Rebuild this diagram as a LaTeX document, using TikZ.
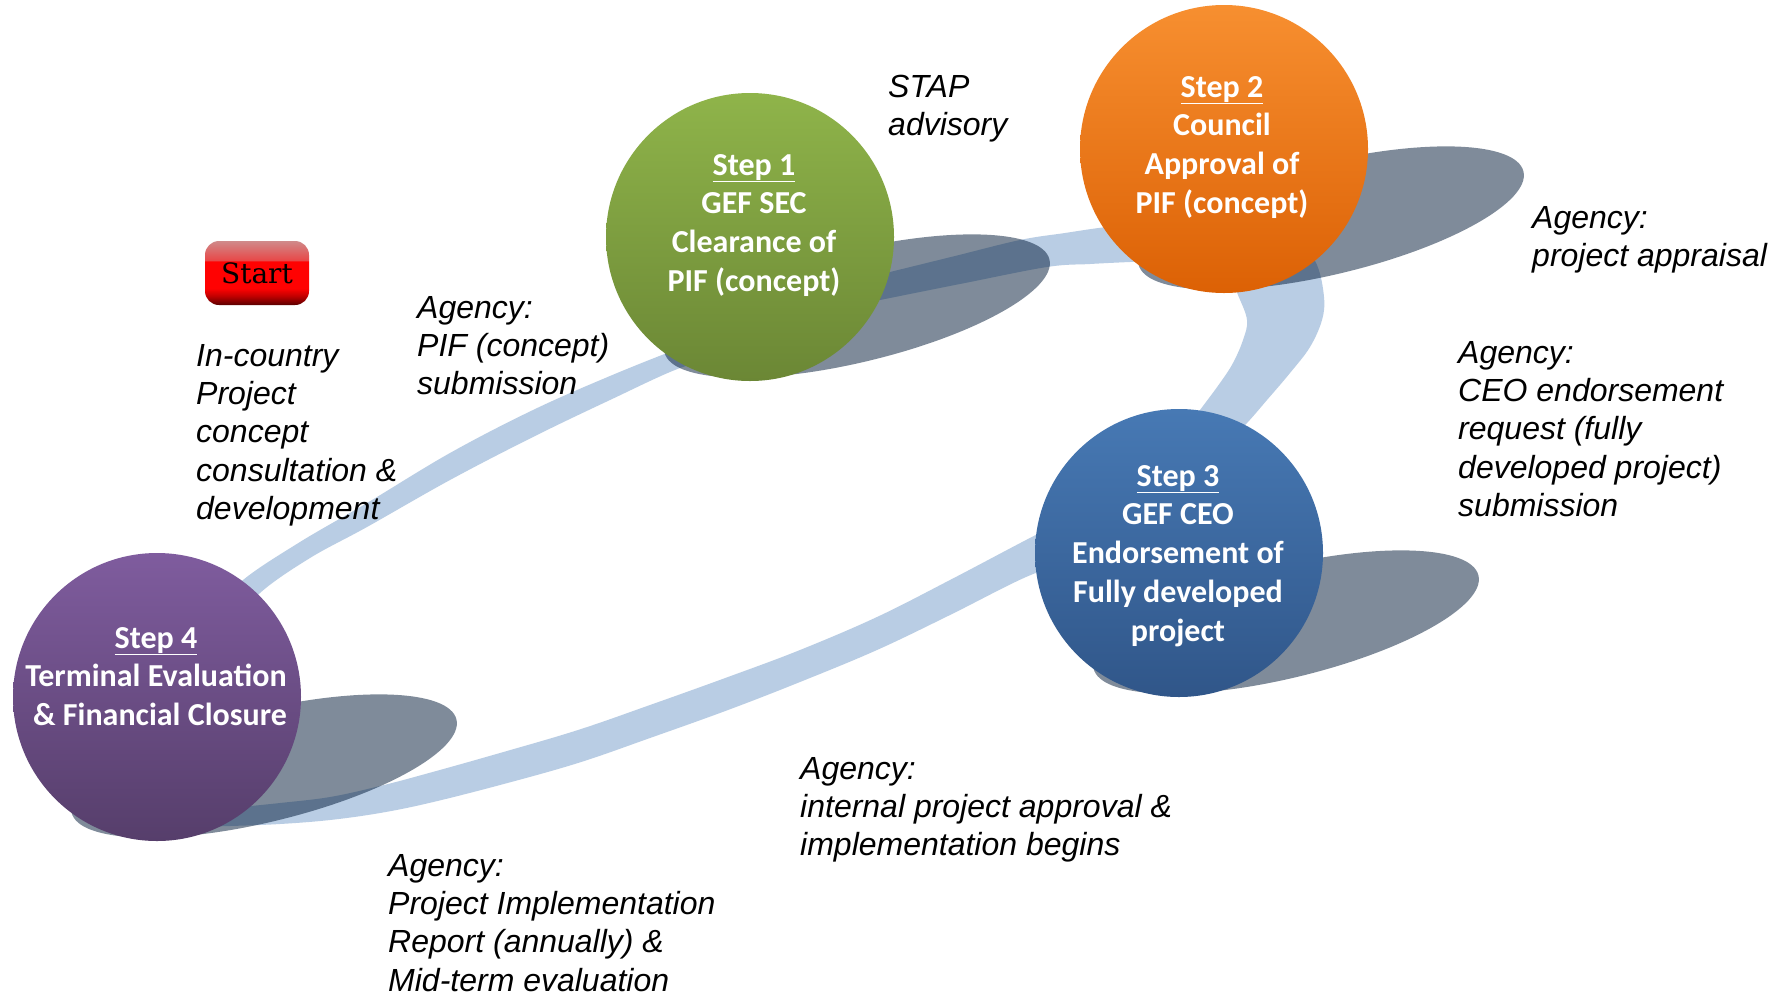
\documentclass[tikz,border=0pt]{standalone}
\usepackage{fontspec}
\setmainfont{Liberation Sans}
\newfontfamily\carlito{Carlito}
\newfontfamily\dejaserif{DejaVu Serif}
\definecolor{bandc}{HTML}{B9CDE4}
\definecolor{shad}{RGB}{0,25,55}
\definecolor{gA}{HTML}{8FB44A}
\definecolor{gB}{HTML}{6B8735}
\definecolor{oA}{HTML}{F78F30}
\definecolor{oB}{HTML}{DC6105}
\definecolor{bA}{HTML}{4779B4}
\definecolor{bB}{HTML}{305689}
\definecolor{pA}{HTML}{7F5C9E}
\definecolor{pB}{HTML}{563E6B}
\definecolor{sbot}{HTML}{5A0000}
\definecolor{sred2}{HTML}{C00000}
\definecolor{sred}{HTML}{FF0202}
\definecolor{shi}{HTML}{E84848}
\definecolor{stop}{HTML}{D08A8A}
\pgfdeclareverticalshading{startsh}{100bp}{color(0bp)=(sbot); color(25bp)=(sbot); color(32bp)=(sred2); color(38bp)=(sred); color(59bp)=(sred); color(60bp)=(shi); color(75bp)=(stop); color(100bp)=(stop)}
\newcommand\firstln{\rule{0pt}{25pt}}
\begin{document}
\begin{tikzpicture}[x=1pt,y=-1pt,
  stepcircle/.style={circle, minimum size=288pt, inner sep=0pt, outer sep=0pt, shading angle=45},
  steptext/.style={text=white, font=\carlito\bfseries\fontsize{32}{38.7}\selectfont, align=center, anchor=north, inner sep=0pt},
  agencytext/.style={text=black, font=\itshape\fontsize{32}{38.3}\selectfont, align=left, anchor=north west, inner sep=0pt},
  shadowblob/.style={fill=shad, fill opacity=0.5},
  bandfill/.style={fill=bandc},
  startbtn/.style={shade, shading=startsh, rounded corners=14pt, minimum width=104pt, minimum height=64pt, inner sep=0pt, text height=20pt, text depth=0pt, font=\dejaserif\fontsize{28}{30}\selectfont}
]
\useasboundingbox (0,0) rectangle (1777,1002);
\fill[white] (0,0) rectangle (1777,1002);

% ring band, drawn in four pieces whose ends hide under the circles
\fill[bandfill] plot[smooth, tension=0.6] coordinates {(215,612) (243,580) (300,542) (367,503) (450,453) (533,410) (610,376) (680,348) (725,332)}
  -- plot[smooth, tension=0.6] coordinates {(725,357) (680,368) (610,400) (533,437) (450,480) (367,527) (310,558) (260,593) (232,628)} -- cycle;
\fill[bandfill] plot[smooth, tension=0.6] coordinates {(800,294) (890,272) (955,256) (1020,240) (1065,233) (1107,227) (1150,224)}
  -- plot[smooth, tension=0.6] coordinates {(1160,261) (1130,262) (1090,264) (1047,267) (965,283) (880,300) (790,318)} -- cycle;
\fill[bandfill] plot[smooth, tension=0.6] coordinates {(1225,265) (1238,295) (1247,320) (1243,340) (1233,363) (1220,383) (1200,410) (1183,432)}
  -- plot[smooth, tension=0.6] coordinates {(1225,445) (1247,423) (1267,400) (1290,373) (1310,347) (1322,320) (1324,297) (1317,265) (1300,240)} -- cycle;
\fill[bandfill] plot[smooth, tension=0.6] coordinates {(1075,515) (1026,540) (950,580) (877,617) (800,650) (728,677) (650,705) (578,730) (500,753) (429,773) (380,786) (330,797) (280,803) (230,808) (185,812)}
  -- plot[smooth, tension=0.6] coordinates {(185,827) (230,826) (280,824) (330,820) (380,813) (429,803) (500,785) (578,763) (650,738) (728,710) (800,682) (877,650) (950,615) (1026,577) (1075,560)} -- cycle;

% shadows
\fill[shadowblob, rotate around={13.6:(857,306)}] (857,306) ellipse [x radius=198, y radius=56];
\fill[shadowblob, rotate around={13.6:(1331,218)}] (1331,218) ellipse [x radius=198, y radius=56];
\fill[shadowblob, rotate around={13.6:(1286,622)}] (1286,622) ellipse [x radius=198, y radius=56];
\fill[shadowblob, rotate around={13.6:(264,766)}] (264,766) ellipse [x radius=198, y radius=56];

% step circles
\node[stepcircle, top color=gA, bottom color=gB] (s1) at (750,237) {};
\node[stepcircle, top color=oA, bottom color=oB] (s2) at (1224,149) {};
\node[stepcircle, top color=bA, bottom color=bB] (s3) at (1179,553) {};
\node[stepcircle, top color=pA, bottom color=pB] (s4) at (157,697) {};

\node[steptext] (s1t) at (754,150) {\firstln\underline{Step 1}\\GEF SEC\\Clearance of\\PIF (concept)};
\node[steptext] (s2t) at (1222,72) {\firstln\underline{Step 2}\\Council\\Approval of\\PIF (concept)};
\node[steptext] (s3t) at (1178,461) {\firstln\underline{Step 3}\\GEF CEO\\Endorsement of\\Fully developed\\project};
\node[steptext] (s4t) at (156,623) {\firstln\underline{Step 4}\\Terminal Evaluation\\\hspace*{8pt}\& Financial Closure};

% start button
\node[startbtn] (start) at (257,273) {Start};

% annotations
\node[agencytext] (tin) at (196,341) {\firstln In-country\\Project\\concept\\consultation \&\\development};
\node[agencytext] (tpif) at (417,293) {\firstln Agency:\\PIF (concept)\\submission};
\node[agencytext] (tstap) at (888,72) {\firstln STAP\\advisory};
\node[agencytext] (tapp) at (1532,203) {\firstln Agency:\\project appraisal};
\node[agencytext] (tceo) at (1458,338) {\firstln Agency:\\CEO endorsement\\request (fully\\developed project)\\submission};
\node[agencytext] (tint) at (800,754) {\firstln Agency:\\internal project approval \&\\implementation begins};
\node[agencytext] (tpir) at (388,851) {\firstln Agency:\\Project Implementation\\Report (annually) \&\\Mid-term evaluation};
\end{tikzpicture}
\end{document}
